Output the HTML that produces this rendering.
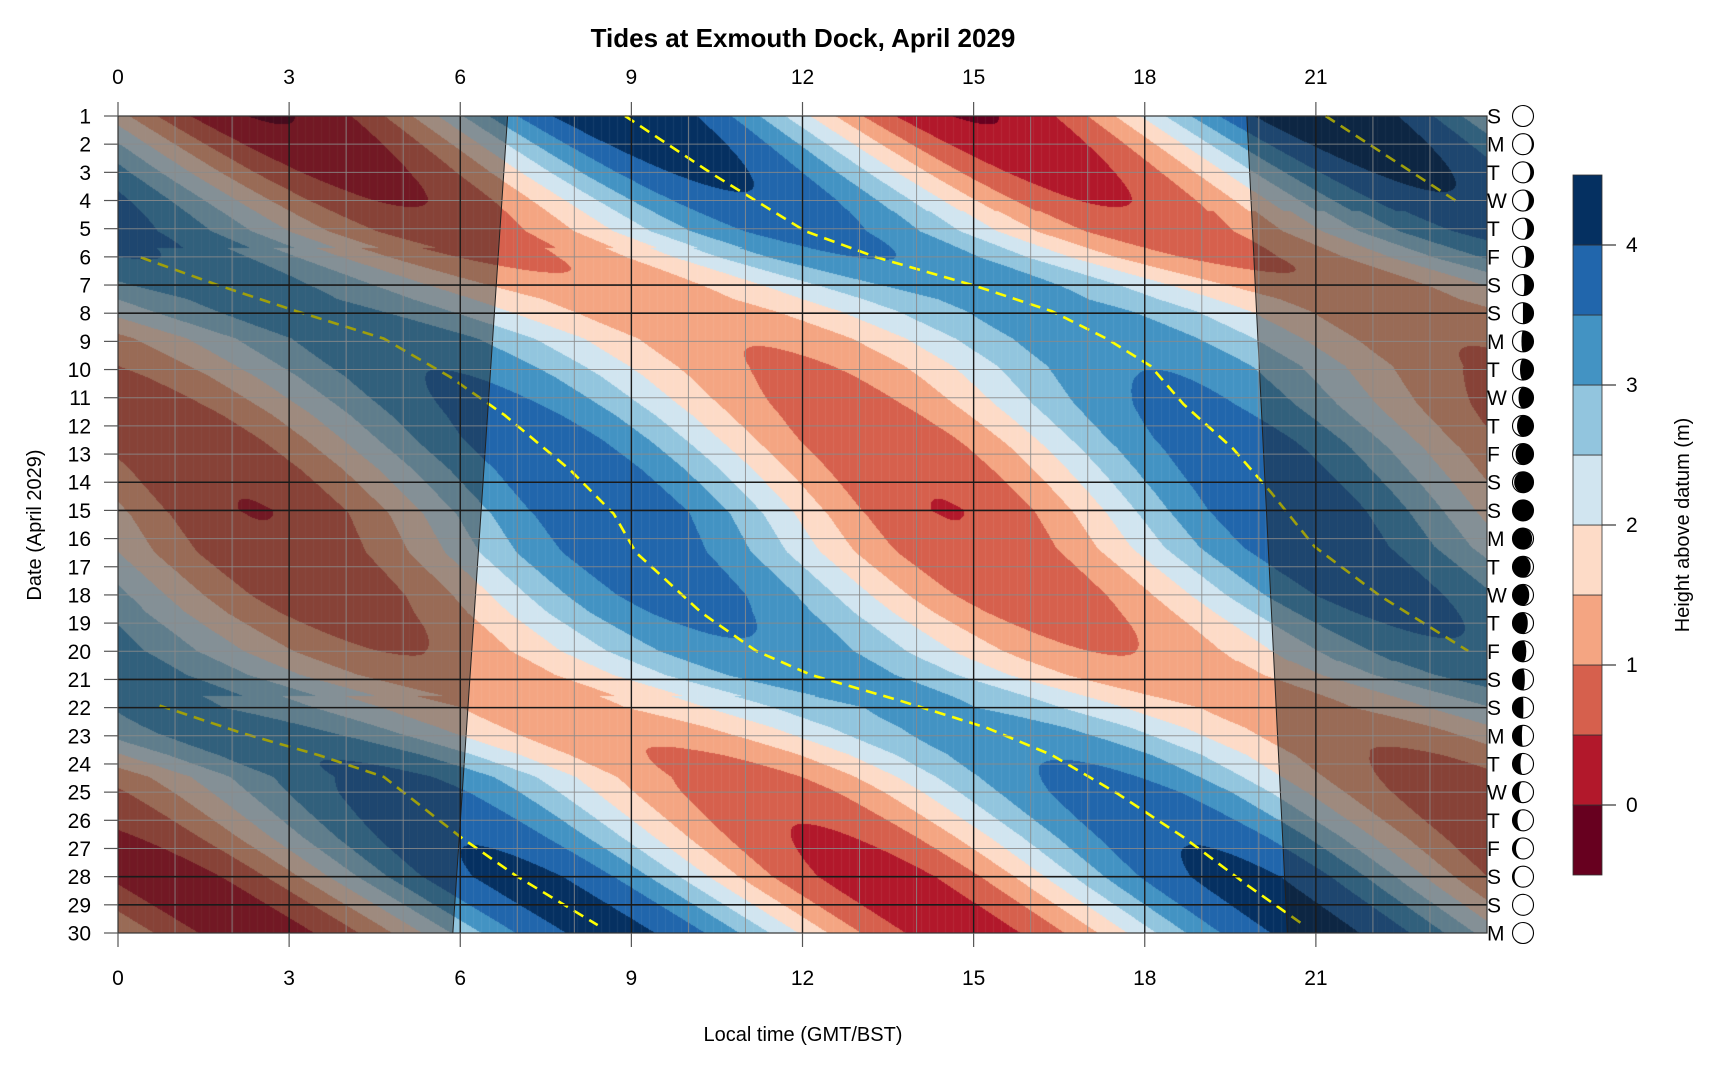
<!DOCTYPE html>
<html><head><meta charset="utf-8">
<style>
html,body{margin:0;padding:0;background:#fff;}
#wrap{position:relative;width:1720px;height:1080px;overflow:hidden;background:#fff;font-family:"Liberation Sans",sans-serif;}
canvas{position:absolute;left:118px;top:116px;}
svg{position:absolute;left:0;top:0;}
</style></head><body>
<div id="wrap">
<canvas id="cv" width="1369" height="817"></canvas>
<svg id="sv" width="1720" height="1080" xmlns="http://www.w3.org/2000/svg" font-family="Liberation Sans, sans-serif"></svg>
</div>
<script>
const X0=118,X1=1487,Y0=116,Y1=933,W=X1-X0,H=Y1-Y0;
const XS=W/24, YS=H/29;
const X=t=>X0+t*XS, Y=d=>Y0+(d-1)*YS;
const A=[[1.0,8.89],[3.06,10.42],[5.09,12.05],[6.02,13.30],[7.03,15.03],[7.93,16.37],[8.90,17.33],[9.87,18.10],[11.23,18.68],[12.79,19.54],[14.35,20.21],[16.29,20.98],[18.04,22.13],[19.99,23.67]];
const B=[[1.0,21.17],[4.03,23.47]];
const C=[[6.02,0.40],[7.03,1.79],[7.93,3.13],[8.90,4.66],[10.26,5.82],[11.62,6.78],[13.57,7.93],[15.12,8.69],[16.49,9.08],[18.63,10.23],[19.99,11.19],[20.84,12.15],[21.74,13.69],[22.71,15.22],[23.68,16.37],[25.05,17.52],[26.60,18.68],[28.35,19.83],[29.72,20.79]];
const D=[[21.93,0.73],[22.9,2.17],[23.68,3.51],[24.46,4.66],[26.6,6.01],[27.96,6.97],[29.72,8.41]];
function interp(tr,d,ext){
  const n=tr.length;
  if(d<tr[0][0]-ext||d>tr[n-1][0]+ext) return null;
  let i=0;
  if(d<=tr[0][0]) i=0; else if(d>=tr[n-1][0]) i=n-2; else {while(i<n-2&&tr[i+1][0]<d)i++;}
  const a=tr[i],b=tr[i+1];
  return a[1]+(b[1]-a[1])*(d-a[0])/(b[0]-a[0]);
}
const AMP=[[1,2.25],[4,1.75],[7.5,1.0],[10,1.3],[12.5,1.6],[15,1.72],[18,1.55],[22,0.9],[25,1.55],[28,1.95],[30,1.95]];
const MEAN=2.2;
const cols=["#67001F","#B2182B","#D6604D","#F4A582","#FDDBC7","#D1E5F0","#92C5DE","#4393C3","#2166AC","#053061"];
const rgb=cols.map(c=>[parseInt(c.substr(1,2),16),parseInt(c.substr(3,2),16),parseInt(c.substr(5,2),16)]);
const cv=document.getElementById('cv'),ctx=cv.getContext('2d');
const img=ctx.createImageData(W,H);
for(let py=0;py<H;py++){
  const d=1+(py+0.5)*29/H;
  let L=[];
  for(const tr of [A,B,C,D]){const v=interp(tr,d,0.35); if(v!==null)L.push(v);}
  L.sort((a,b)=>a-b);
  let M=[];for(const v of L){if(!M.length||v-M[M.length-1]>3)M.push(v);}
  if(!M.length)M=[8];
  while(M[0]>-6)M.unshift(M[0]-12.42);
  while(M[M.length-1]<30)M.push(M[M.length-1]+12.42);
  const amp=interp(AMP,d,5);
  let i=0;
  for(let px=0;px<W;px++){
    const t=(px+0.5)*24/W;
    while(i<M.length-2&&M[i+1]<=t)i++;
    const ph=(t-M[i])/(M[i+1]-M[i]);
    const h=MEAN+amp*Math.cos(2*Math.PI*ph);
    let k=Math.floor((h+0.5)/0.5);if(k<0)k=0;if(k>9)k=9;
    const c=rgb[k],o=(py*W+px)*4;
    img.data[o]=c[0];img.data[o+1]=c[1];img.data[o+2]=c[2];img.data[o+3]=255;
  }
}
ctx.putImageData(img,0,0);
ctx.fillStyle="rgba(255,255,255,0.07)";
for(let x=3;x<W;x+=8)ctx.fillRect(x,0,1,H);

const sv=document.getElementById('sv');
let s='';
function line(x1,y1,x2,y2,st,w,extra){s+=`<line x1="${x1}" y1="${y1}" x2="${x2}" y2="${y2}" stroke="${st}" stroke-width="${w}" ${extra||''}/>`;}
function text(x,y,t,sz,anchor,extra){s+=`<text x="${x}" y="${y}" font-size="${sz}" text-anchor="${anchor}" ${extra||''}>${t}</text>`;}
for(const tr of [A,B,C,D]){
  const pts=tr.map(p=>`${X(p[1]).toFixed(1)},${Y(p[0]).toFixed(1)}`).join(' ');
  s+=`<polyline points="${pts}" fill="none" stroke="#FFFF00" stroke-width="2.6" stroke-dasharray="11,7"/>`;
}
const l1=6.83,l30=5.87,r1=19.79,r30=20.5;
s+=`<polygon points="${X0},${Y0} ${X(l1)},${Y0} ${X(l30)},${Y1} ${X0},${Y1}" fill="rgba(26,26,26,0.42)" stroke="#222" stroke-width="1"/>`;
s+=`<polygon points="${X(r1)},${Y0} ${X1},${Y0} ${X1},${Y1} ${X(r30)},${Y1}" fill="rgba(26,26,26,0.42)" stroke="#222" stroke-width="1"/>`;
for(let h=1;h<24;h++){if(h%3)line(X(h),Y0,X(h),Y1,"#8a8a8a",1,'opacity="0.85"');}
for(let d=2;d<30;d++){if(![7,8,14,15,21,22,28,29].includes(d))line(X0,Y(d),X1,Y(d),"#8a8a8a",1,'opacity="0.85"');}
for(let h=3;h<24;h+=3)line(X(h),Y0,X(h),Y1,"#1a1a1a",1.4);
for(const d of [7,8,14,15,21,22,28,29])line(X0,Y(d),X1,Y(d),"#1a1a1a",1.6);
s+=`<rect x="${X0}" y="${Y0}" width="${W}" height="${H}" fill="none" stroke="#333" stroke-width="1.2"/>`;
for(let h=0;h<24;h+=3){
  line(X(h),Y0-14,X(h),Y0,"#555",1.2);line(X(h),Y1,X(h),Y1+14,"#555",1.2);
  text(X(h),84,h,21,"middle");text(X(h),985,h,21,"middle");
}
const dow=["S","M","T","W","T","F","S"];
for(let d=1;d<=30;d++){
  line(X0-14,Y(d),X0,Y(d),"#555",1.2);
  text(91,Y(d)+7.5,d,21,"end");
  text(1487,Y(d)+7.5,dow[(d-1)%7],21,"start");
  const cx=1523,cy=Y(d),r=10.5;
  s+=`<circle cx="${cx}" cy="${cy}" r="${r}" fill="#fff" stroke="#000" stroke-width="1.1"/>`;
  const P=28.6, age=((d-0.8)%P+P)%P, half=P/2;
  const waxing=age<half;
  const a=waxing?age:P-age;
  const tx=1-2*a/half; // terminator position from +1 (new) to -1 (full)
  const rx=Math.abs(tx)*r;
  const sw=tx>0?0:1;
  if(a>0.6){
    const p=`M${cx},${cy-r} A${r},${r} 0 0 1 ${cx},${cy+r} A${rx.toFixed(2)},${r} 0 0 ${sw} ${cx},${cy-r} Z`;
    s+=`<path d="${p}" fill="#000" ${waxing?'':`transform="translate(${2*cx},0) scale(-1,1)"`}/>`;
  }
}
text(803,47,"Tides at Exmouth Dock, April 2029",26,"middle",'font-weight="bold"');
text(803,1041,"Local time (GMT/BST)",20,"middle");
s+=`<text transform="translate(41,525) rotate(-90)" font-size="20" text-anchor="middle">Date (April 2029)</text>`;
const cbx=1573,cbw=29,cbt=175,cbb=875,bh=(cbb-cbt)/10;
for(let k=0;k<10;k++){s+=`<rect x="${cbx}" y="${cbb-(k+1)*bh}" width="${cbw}" height="${bh}" fill="${cols[k]}" stroke="#333" stroke-width="0.8"/>`;}
for(let v=0;v<=4;v++){const y=cbb-(v+0.5)*2*bh;line(cbx+cbw,y,cbx+cbw+14,y,"#333",1.2);text(1626,y+7,v,21,"start");}
s+=`<text transform="translate(1689,525) rotate(-90)" font-size="20" text-anchor="middle">Height above datum (m)</text>`;
sv.innerHTML=s;
</script>
</body></html>
